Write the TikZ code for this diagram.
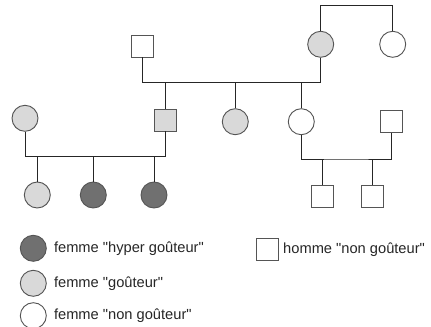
\documentclass[tikz,border=0pt]{standalone}
\usepackage{fontspec}
\setmainfont{Liberation Sans}
\usetikzlibrary{positioning}
\definecolor{tastergray}{RGB}{217,217,217}
\definecolor{hypergray}{RGB}{112,112,112}
\definecolor{outlinegray}{RGB}{85,85,85}
\newcommand{\qq}[1]{\textquotedbl#1\textquotedbl}
\tikzset{
  wire/.style={black!85,line width=0.7pt},
  female/.style={circle,draw=outlinegray,line width=0.7pt,fill=white,minimum size=19.5pt,inner sep=0pt},
  male/.style={rectangle,draw=outlinegray,line width=0.7pt,fill=white,minimum size=16.5pt,inner sep=0pt},
  taster/.style={fill=tastergray},
  hyper/.style={fill=hypergray},
  legend/.style={anchor=west,font=\fontsize{11pt}{13pt}\selectfont,inner sep=0pt,text=black!85},
}
\begin{document}
\begin{tikzpicture}[x=0.75pt,y=-0.75pt]
  \path[use as bounding box] (0,0) rectangle (431,326);

  \node[male]          (gfather) at (142.7,46) {};
  \node[female,taster] (gmother) at (320.7,44.3) {};
  \node[female]        (ggmother) at (392.7,44.3) {};

  \node[female,taster] (wifeL)  at (25,118.3) {};
  \node[male,taster]   (son)    at (165.3,120) {};
  \node[female,taster] (daughA) at (235.3,121.7) {};
  \node[female]        (daughB) at (301.3,121.7) {};
  \node[male]          (husbR)  at (391.2,121.7) {};

  \node[female,taster] (childA) at (37.3,195) {};
  \node[female,hyper]  (childB) at (93.3,195) {};
  \node[female,hyper]  (childC) at (154,195) {};
  \node[male]          (childD) at (322,196.5) {};
  \node[male]          (childE) at (372,196.5) {};

  \coordinate (topline) at (356,5.3);
  \coordinate (marriage1) at (230,82.3);
  \coordinate (marriage2) at (95,156.7);
  \coordinate (marriage3) at (346,159);

  \draw[wire] (gmother.north) |- (topline) -| (ggmother.north);
  \draw[wire] (gfather.south) |- (marriage1) -| (gmother.south);
  \foreach \kid in {son,daughA,daughB}
    \draw[wire] (\kid.north) -- (\kid.north |- marriage1);
  \draw[wire] (wifeL.south) |- (marriage2) -| (son.south);
  \foreach \kid in {childA,childB,childC}
    \draw[wire] (\kid.north) -- (\kid.north |- marriage2);
  \draw[wire] (daughB.south) |- (marriage3) -| (husbR.south);
  \foreach \kid in {childD,childE}
    \draw[wire] (\kid.north) -- (\kid.north |- marriage3);

  \node[female,hyper]  (keyhyper) at (33.3,248.3) {};
  \node[legend,right=7 of keyhyper] (txthyper) {femme \qq{hyper goûteur}};
  \node[female,taster] (keytaster) at (33.3,283.3) {};
  \node[legend,right=7 of keytaster] (txttaster) {femme \qq{goûteur}};
  \node[female]        (keynon) at (33.3,315.7) {};
  \node[legend,right=7 of keynon] (txtnon) {femme \qq{non goûteur}};
  \node[male]          (keymale) at (267.5,249.3) {};
  \node[legend,right=4 of keymale] (txtmale) {homme \qq{non goûteur}};
\end{tikzpicture}
\end{document}
